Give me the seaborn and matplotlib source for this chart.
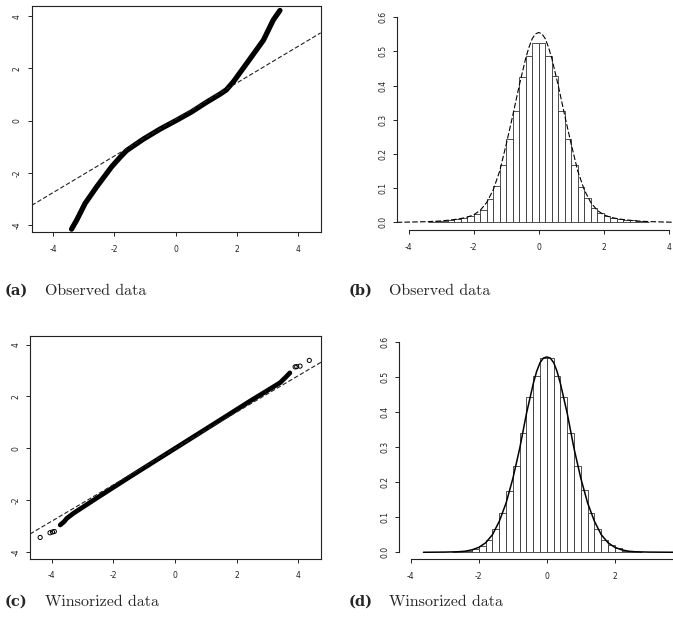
import numpy as np
import pandas as pd
import matplotlib.pyplot as plt
import seaborn as sns

obs_theo = [-3.40, -3.23, -2.96, -2.58, -2.09, -1.80, -1.60, -1.05, -0.51, 0.0,
            0.52, 1.01, 1.45, 1.65, 1.88, 2.32, 2.86, 3.18, 3.40]
obs_sample = [-4.15, -3.80, -3.17, -2.53, -1.76, -1.38, -1.14, -0.70, -0.32, 0.0,
              0.34, 0.71, 1.02, 1.18, 1.49, 2.20, 3.08, 3.85, 4.22]
obs_qq_slope = 0.70
obs_qq_intercept = 0.05

# QQ plot (c): winsorized data
win_theo = [-3.73, -3.60, -3.52, -3.30, -2.50, -1.50, 0.0, 1.50, 2.50, 3.00, 3.41, 3.60, 3.73]
win_sample = [-2.95, -2.82, -2.70, -2.50, -1.88, -1.12, 0.0, 1.12, 1.87, 2.23, 2.53, 2.75, 2.91]
win_out_theo = [-4.38, -4.06, -3.98, -3.92, 3.90, 3.95, 4.06, 4.36]
win_out_sample = [-3.43, -3.25, -3.22, -3.20, 3.14, 3.15, 3.17, 3.39]
win_qq_slope = 0.70
win_qq_intercept = 0.0

# Histogram (b): bins of width 0.2, density heights
obs_edges = [round(-3.4 + 0.2 * i, 1) for i in range(35)]
obs_heights = [0.002, 0.003, 0.005, 0.007, 0.010, 0.013, 0.018, 0.024, 0.036, 0.067,
               0.106, 0.168, 0.243, 0.325, 0.425, 0.487, 0.525,
               0.525, 0.487, 0.428, 0.325, 0.243, 0.168, 0.104, 0.070, 0.041,
               0.026, 0.018, 0.014, 0.011, 0.008, 0.006, 0.004, 0.002]
obs_dens_x = [-4.37, -3.8, -3.4, -3.0, -2.8, -2.6, -2.4, -2.2, -2.0, -1.8, -1.6, -1.4, -1.2,
              -1.0, -0.8, -0.6, -0.4, -0.3, -0.2, -0.1, 0.0, 0.1, 0.2, 0.3, 0.4, 0.6, 0.8,
              1.0, 1.2, 1.4, 1.6, 1.8, 2.0, 2.2, 2.4, 2.6, 2.8, 3.0, 3.4, 3.8, 4.2]
obs_dens_y = [0.0, 0.001, 0.002, 0.004, 0.006, 0.008, 0.011, 0.015, 0.022, 0.035, 0.058, 0.095,
              0.150, 0.228, 0.312, 0.400, 0.480, 0.512, 0.537, 0.551, 0.555, 0.551, 0.537,
              0.512, 0.480, 0.400, 0.312, 0.228, 0.150, 0.095, 0.058, 0.035, 0.022, 0.015,
              0.011, 0.008, 0.006, 0.004, 0.002, 0.001, 0.0]

# Histogram (d): winsorized data
win_edges = [round(-2.8 + 0.2 * i, 1) for i in range(29)]
win_heights = [0.001, 0.002, 0.004, 0.009, 0.019, 0.035, 0.066, 0.111, 0.175, 0.247,
               0.340, 0.443, 0.502, 0.552,
               0.552, 0.502, 0.443, 0.340, 0.247, 0.177, 0.111, 0.065, 0.035, 0.021,
               0.011, 0.005, 0.002, 0.001]
win_dens_x = [-3.63, -3.0, -2.6, -2.4, -2.2, -2.0, -1.8, -1.6, -1.4, -1.2, -1.0, -0.8, -0.6,
              -0.4, -0.3, -0.2, -0.1, 0.0, 0.1, 0.2, 0.3, 0.4, 0.6, 0.8, 1.0, 1.2, 1.4,
              1.6, 1.8, 2.0, 2.2, 2.4, 2.6, 3.0, 3.72]
win_dens_y = [0.0, 0.0005, 0.0015, 0.003, 0.007, 0.014, 0.027, 0.050, 0.088, 0.140, 0.210,
              0.295, 0.395, 0.480, 0.515, 0.540, 0.553, 0.556, 0.553, 0.540, 0.515, 0.480,
              0.395, 0.295, 0.210, 0.140, 0.088, 0.050, 0.027, 0.014, 0.007, 0.003, 0.0015,
              0.0005, 0.0]

captions = [("(a)", "Observed data"), ("(b)", "Observed data"),
            ("(c)", "Winsorized data"), ("(d)", "Winsorized data")]

sns.set_style("ticks")
plt.rcParams['font.family'] = ['DejaVu Sans']
plt.rcParams['axes.unicode_minus'] = False

W, H = 673, 627
fig = plt.figure(figsize=(W / 100, H / 100), dpi=100)


def px_axes(left, top, right, bottom):
    return fig.add_axes([left / W, 1 - bottom / H, (right - left) / W, (bottom - top) / H])


line_col = '#222222'


def style_axes(ax, box=True):
    for s in ax.spines.values():
        s.set_color(line_col)
        s.set_linewidth(0.8)
    if not box:
        ax.spines['top'].set_visible(False)
        ax.spines['right'].set_visible(False)
    ax.tick_params(direction='out', length=3, width=0.7, color=line_col,
                   labelsize=5.5, labelcolor='#222222')
    ax.tick_params(axis='x', pad=6)
    ax.tick_params(axis='y', pad=4)
    for lab in ax.get_yticklabels():
        lab.set_rotation(90)
        lab.set_va('center')
    ax.set_xlabel('')
    ax.set_ylabel('')


# (a) QQ observed
ax_a = px_axes(31.7, 6, 320.7, 232)
sns.lineplot(x=obs_theo, y=obs_sample, sort=False, estimator=None, color='black',
             linewidth=3.8, solid_capstyle='round', ax=ax_a)
ax_a.axline((0, obs_qq_intercept), slope=obs_qq_slope, color=line_col, lw=0.8,
            linestyle=(0, (4, 2)))
ax_a.set_xlim(-4.70, 4.73)
ax_a.set_ylim(-4.26, 4.39)
ax_a.set_xticks([-4, -2, 0, 2, 4])
ax_a.set_yticks([-4, -2, 0, 2, 4])
style_axes(ax_a)

# (c) QQ winsorized
ax_c = px_axes(30, 336, 321, 559)
sns.lineplot(x=win_theo, y=win_sample, sort=False, estimator=None, color='black',
             linewidth=3.4, solid_capstyle='round', ax=ax_c)
sns.scatterplot(x=win_out_theo, y=win_out_sample, s=9, facecolor='none',
                edgecolor='black', linewidth=0.7, ax=ax_c)
ax_c.axline((0, win_qq_intercept), slope=win_qq_slope, color=line_col, lw=0.8,
            linestyle=(0, (4, 2)))
ax_c.set_xlim(-4.71, 4.74)
ax_c.set_ylim(-4.26, 4.33)
ax_c.set_xticks([-4, -2, 0, 2, 4])
ax_c.set_yticks([-4, -2, 0, 2, 4])
style_axes(ax_c)


def hist_panel(ax, edges, heights, dens_x, dens_y, dens_ls, dens_lw):
    centers = [(edges[i] + edges[i + 1]) / 2 for i in range(len(heights))]
    sns.histplot(x=centers, weights=heights, bins=edges, stat='count', color='white',
                 edgecolor='#333333', linewidth=0.6, alpha=1, ax=ax)
    sns.lineplot(x=dens_x, y=dens_y, sort=False, estimator=None, color='black',
                 linewidth=dens_lw, linestyle=dens_ls, ax=ax)
    ax.set_yticks([0, 0.1, 0.2, 0.3, 0.4, 0.5, 0.6])
    ax.set_yticklabels(['0.0', '0.1', '0.2', '0.3', '0.4', '0.5', '0.6'])
    ax.set_xticks([-4, -2, 0, 2, 4])
    ax.spines['left'].set_bounds(0, 0.6)
    ax.spines['bottom'].set_bounds(-4, 4)
    style_axes(ax, box=False)


# (b) histogram observed
ax_b = px_axes(397, 13.7, 673, 230)
hist_panel(ax_b, obs_edges, obs_heights, obs_dens_x, obs_dens_y, (0, (5, 2)), 0.8)
ax_b.set_xlim(-4.36, 4.13)
ax_b.set_ylim(-0.0225, 0.61)

# (d) histogram winsorized
ax_d = px_axes(399.3, 338, 673, 559.3)
hist_panel(ax_d, win_edges, win_heights, win_dens_x, win_dens_y, '-', 1.1)
ax_d.set_xlim(-4.34, 3.71)
ax_d.set_ylim(-0.02, 0.61)

# captions
cap_pos = [(5, 295), (349, 295), (5, 606), (349, 606)]
for (tag, txt), (cx, cy) in zip(captions, cap_pos):
    fig.text(cx / W, 1 - cy / H, tag, family='DejaVu Serif', weight='bold',
             fontsize=10.5, va='baseline')
    fig.text((cx + 40) / W, 1 - cy / H, txt, family='cmr10', fontsize=11.5, va='baseline')

fig.savefig('out.png', dpi=100, facecolor='white')
